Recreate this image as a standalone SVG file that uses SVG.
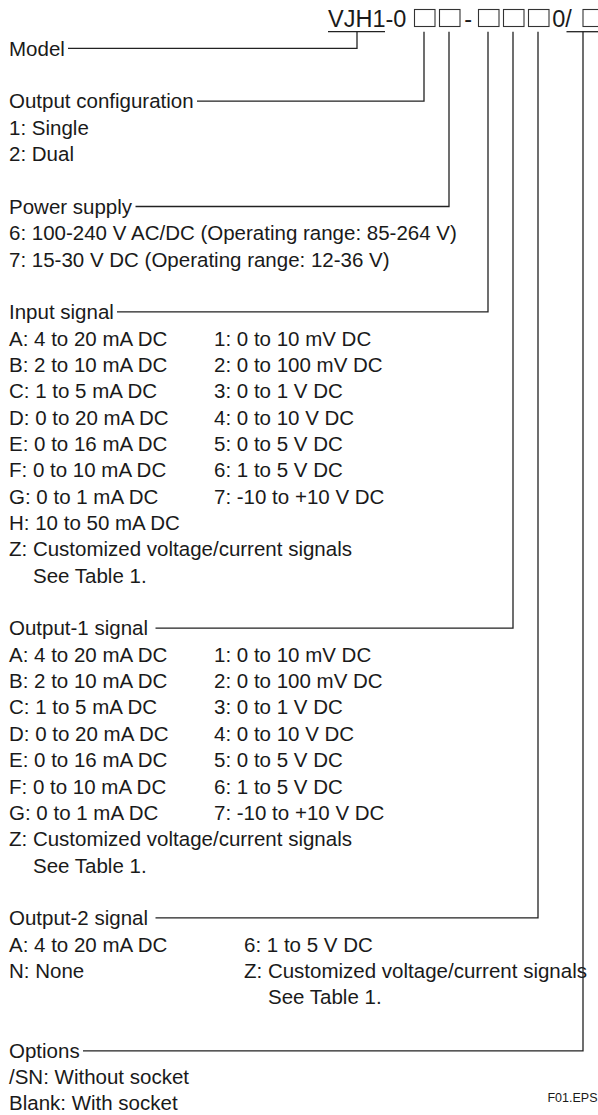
<svg xmlns="http://www.w3.org/2000/svg" width="598" height="1115" viewBox="0 0 598 1115">
<style>
.t{font-family:"Liberation Sans",Arial,Helvetica,sans-serif;font-size:20.5px;fill:#1a1a1a}
.h{font-family:"Liberation Sans",Arial,Helvetica,sans-serif;font-size:23.5px;fill:#1a1a1a}
.s{font-family:"Liberation Sans",Arial,Helvetica,sans-serif;font-size:12.5px;fill:#1a1a1a}
.ln{fill:none;stroke:#222;stroke-width:1.3}
.bx{fill:none;stroke:#333;stroke-width:1.1}
</style>
<rect width="598" height="1115" fill="#fff"/>
<g id="code">
<text class="h" x="328" y="27">VJH1-0</text>
<rect class="bx" x="414.5" y="9.5" width="20.5" height="17"/>
<rect class="bx" x="439.5" y="9.5" width="20.5" height="17"/>
<text class="h" x="464.2" y="27">-</text>
<rect class="bx" x="478.5" y="9.5" width="20.5" height="17"/>
<rect class="bx" x="503.5" y="9.5" width="20.5" height="17"/>
<rect class="bx" x="528.5" y="9.5" width="20.5" height="17"/>
<text class="h" x="552.3" y="27">0/</text>
<rect class="bx" x="583" y="9.5" width="20.5" height="17"/>
<line class="ln" x1="328" y1="31.7" x2="385" y2="31.7"/>
<line class="ln" x1="566.5" y1="31.7" x2="598" y2="31.7"/>
</g>
<g id="model">
<text class="t" x="9" y="55.7">Model</text>
</g>
<g id="output-configuration">
<text class="t" x="9" y="108.4">Output configuration</text>
<text class="t" x="9" y="134.75">1: Single</text>
<text class="t" x="9" y="161.1">2: Dual</text>
</g>
<g id="power-supply">
<text class="t" x="9" y="213.8">Power supply</text>
<text class="t" x="9" y="240.15">6: 100-240 V AC/DC (Operating range: 85-264 V)</text>
<text class="t" x="9" y="266.5">7: 15-30 V DC (Operating range: 12-36 V)</text>
</g>
<g id="input-signal">
<text class="t" x="9" y="319.2">Input signal</text>
<text class="t" x="9" y="345.55">A: 4 to 20 mA DC</text>
<text class="t" x="214" y="345.55">1: 0 to 10 mV DC</text>
<text class="t" x="9" y="371.9">B: 2 to 10 mA DC</text>
<text class="t" x="214" y="371.9">2: 0 to 100 mV DC</text>
<text class="t" x="9" y="398.25">C: 1 to 5 mA DC</text>
<text class="t" x="214" y="398.25">3: 0 to 1 V DC</text>
<text class="t" x="9" y="424.6">D: 0 to 20 mA DC</text>
<text class="t" x="214" y="424.6">4: 0 to 10 V DC</text>
<text class="t" x="9" y="450.95">E: 0 to 16 mA DC</text>
<text class="t" x="214" y="450.95">5: 0 to 5 V DC</text>
<text class="t" x="9" y="477.3">F: 0 to 10 mA DC</text>
<text class="t" x="214" y="477.3">6: 1 to 5 V DC</text>
<text class="t" x="9" y="503.65">G: 0 to 1 mA DC</text>
<text class="t" x="214" y="503.65">7: -10 to +10 V DC</text>
<text class="t" x="9" y="530">H: 10 to 50 mA DC</text>
<text class="t" x="9" y="556.35">Z: Customized voltage/current signals</text>
<text class="t" x="33" y="582.7">See Table 1.</text>
</g>
<g id="output-1-signal">
<text class="t" x="9" y="635.4">Output-1 signal</text>
<text class="t" x="9" y="661.75">A: 4 to 20 mA DC</text>
<text class="t" x="214" y="661.75">1: 0 to 10 mV DC</text>
<text class="t" x="9" y="688.1">B: 2 to 10 mA DC</text>
<text class="t" x="214" y="688.1">2: 0 to 100 mV DC</text>
<text class="t" x="9" y="714.45">C: 1 to 5 mA DC</text>
<text class="t" x="214" y="714.45">3: 0 to 1 V DC</text>
<text class="t" x="9" y="740.8">D: 0 to 20 mA DC</text>
<text class="t" x="214" y="740.8">4: 0 to 10 V DC</text>
<text class="t" x="9" y="767.15">E: 0 to 16 mA DC</text>
<text class="t" x="214" y="767.15">5: 0 to 5 V DC</text>
<text class="t" x="9" y="793.5">F: 0 to 10 mA DC</text>
<text class="t" x="214" y="793.5">6: 1 to 5 V DC</text>
<text class="t" x="9" y="819.85">G: 0 to 1 mA DC</text>
<text class="t" x="214" y="819.85">7: -10 to +10 V DC</text>
<text class="t" x="9" y="846.2">Z: Customized voltage/current signals</text>
<text class="t" x="33" y="872.55">See Table 1.</text>
</g>
<g id="output-2-signal">
<text class="t" x="9" y="925.25">Output-2 signal</text>
<text class="t" x="9" y="951.6">A: 4 to 20 mA DC</text>
<text class="t" x="244" y="951.6">6: 1 to 5 V DC</text>
<text class="t" x="9" y="977.95">N: None</text>
<text class="t" x="244" y="977.95">Z: Customized voltage/current signals</text>
<text class="t" x="268" y="1004.3">See Table 1.</text>
</g>
<g id="options">
<text class="t" x="9" y="1058.2">Options</text>
<text class="t" x="9" y="1083.6">/SN: Without socket</text>
<text class="t" x="9" y="1109.5">Blank: With socket</text>
</g>
<g id="figure-label">
<text class="s" x="597.5" y="1102" text-anchor="end">F01.EPS</text>
</g>
<g id="connectors">
<polyline class="ln" points="357,31.7 357,48.4 68,48.4"/>
<polyline class="ln" points="424,31.7 424,101.1 197,101.1"/>
<polyline class="ln" points="449,31.7 449,206.5 135.5,206.5"/>
<polyline class="ln" points="488,31.7 488,311.9 117,311.9"/>
<polyline class="ln" points="513,31.7 513,628.1 155.5,628.1"/>
<polyline class="ln" points="538,31.7 538,917.95 155.5,917.95"/>
<polyline class="ln" points="583,31.7 583,1050.9 83,1050.9"/>
</g>
</svg>
